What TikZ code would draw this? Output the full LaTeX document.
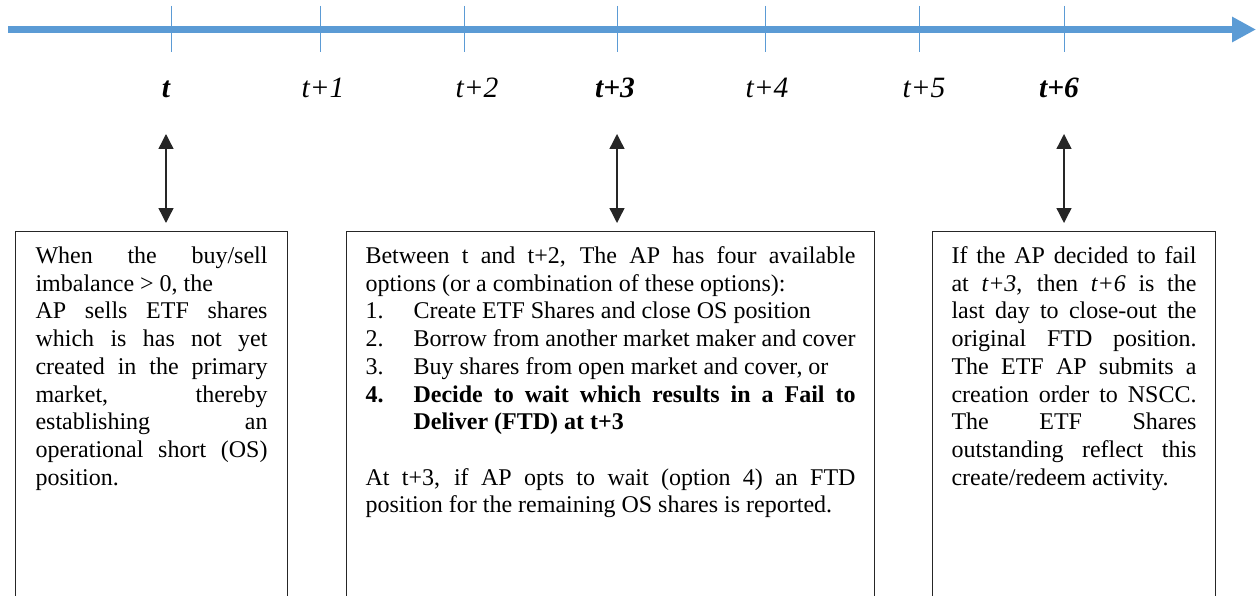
\documentclass[tikz,border=0pt]{standalone}
\usepackage{fontspec}
\setmainfont{Liberation Serif}
\usetikzlibrary{arrows.meta}
\definecolor{axisblue}{RGB}{91,155,213}
\tolerance=10000
\begin{document}
\begin{tikzpicture}[x=1pt,y=-1pt,
  tickmark/.style={draw=axisblue, line width=1pt},
  axisline/.style={draw=axisblue, line width=7.6pt, -{Triangle[width=24pt,length=24pt]}},
  lbl/.style={font=\fontsize{29.5}{34}\selectfont\itshape, anchor=base, inner sep=0pt},
  blbl/.style={font=\fontsize{29.5}{34}\selectfont\bfseries\itshape, anchor=base, inner sep=0pt},
  dbl/.style={{Triangle[width=15pt,length=15pt]}-{Triangle[width=15pt,length=15pt]}, line width=1.4pt, draw=black!85},
  infobox/.style={draw=black!85, line width=1.1pt, anchor=north west, inner xsep=20pt, inner ysep=0pt, font=\fontsize{24}{27.7}\selectfont}
]
\useasboundingbox (0,0) rectangle (1257,596);
% axis
\coordinate (axs) at (8,29.5);
\coordinate (axe) at (1256,29.5);
\draw[axisline] (axs) -- (axe);
\foreach \x in {171,320,464,617,765,919,1064} \draw[tickmark] (\x,6) -- (\x,52);
% labels
\node[blbl] (l0) at (166,98) {t};
\node[lbl] (l1) at (323,98) {t+1};
\node[lbl] (l2) at (477,98) {t+2};
\node[blbl] (l3) at (615,98) {t+3};
\node[lbl] (l4) at (767,98) {t+4};
\node[lbl] (l5) at (924,98) {t+5};
\node[blbl] (l6) at (1059,98) {t+6};
% double arrows
\coordinate (a0t) at (166,134); \coordinate (a0b) at (166,223);
\coordinate (a3t) at (617,134); \coordinate (a3b) at (617,223);
\coordinate (a6t) at (1064,134); \coordinate (a6b) at (1064,223);
\draw[dbl] (a0t) -- (a0b);
\draw[dbl] (a3t) -- (a3b);
\draw[dbl] (a6t) -- (a6b);
% boxes
\node[infobox] (b0) at (15,231) {\parbox[t][400pt][t]{232pt}{\rule{0pt}{32pt}%
When the buy/sell\linebreak imbalance > 0, the\\
AP sells ETF shares\linebreak which is has not yet\linebreak created in the primary\linebreak market, thereby\linebreak establishing an\linebreak operational short (OS)\linebreak position.}};
\node[infobox, inner xsep=19pt] (b3) at (346,231) {\parbox[t][400pt][t]{490pt}{\rule{0pt}{32pt}%
Between t and t+2, The AP has four available\linebreak options (or a combination of these options):\par
\makebox[48pt][l]{1.}Create ETF Shares and close OS position\par
\makebox[48pt][l]{2.}Borrow from another market maker and cover\par
\makebox[48pt][l]{3.}Buy shares from open market and cover, or\par
\hangindent=48pt\hangafter=1\bfseries\makebox[48pt][l]{4.}Decide to wait which results in a Fail to\linebreak Deliver (FTD) at t+3\par
\mdseries\vspace{27.7pt}
At t+3, if AP opts to wait (option 4) an FTD\linebreak position for the remaining OS shares is reported.}};
\node[infobox, inner xsep=19pt] (b6) at (932,231) {\parbox[t][400pt][t]{245pt}{\rule{0pt}{32pt}%
If the AP decided to fail\linebreak at \textit{t+3}, then \textit{t+6} is the\linebreak last day to close-out the\linebreak original FTD position.\linebreak The ETF AP submits a\linebreak creation order to NSCC.\linebreak The ETF Shares\linebreak outstanding reflect this\linebreak create/redeem activity.}};
\end{tikzpicture}
\end{document}
